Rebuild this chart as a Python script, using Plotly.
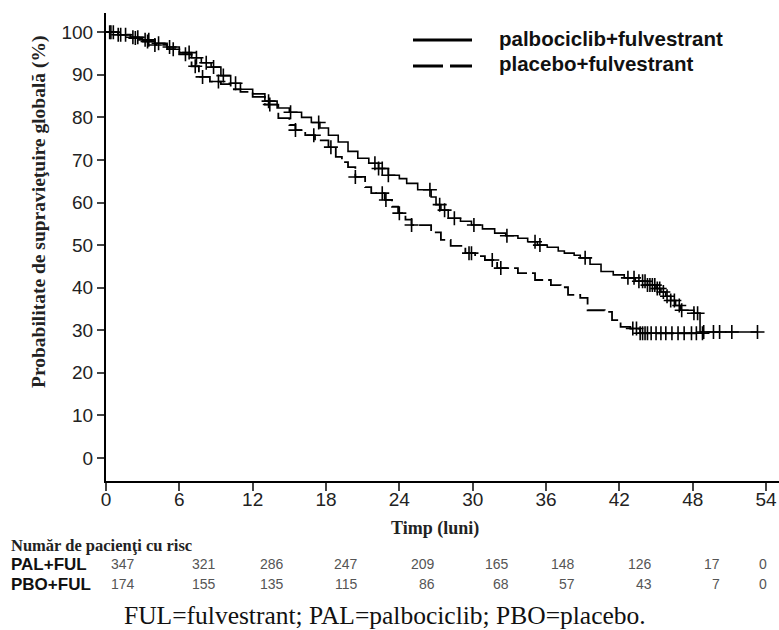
import numpy as np
import plotly.graph_objects as go

# ---------------- data ----------------
pal_times = [0, 1.0, 2.0, 3.0, 4.0, 5.0, 6.0, 7.0, 7.8, 8.6, 9.4, 10.2, 11.0, 12.0, 13.0, 14.0,
             15.0, 16.0, 16.8, 17.5, 18.2, 19.0, 19.8, 20.6, 21.5, 22.3, 23.1, 24.0, 24.6, 25.5,
             26.6, 27.0, 27.4, 28.0, 29.0, 29.9, 30.8, 31.8, 32.7, 33.7, 34.5, 35.3, 36.1, 37.0,
             37.5, 38.3, 38.8, 39.6, 40.5, 41.5, 42.4, 43.3, 44.3, 45.0, 45.4, 45.8, 46.2, 46.6,
             47.0, 48.1, 48.6]
pal_surv = [100, 99.4, 98.8, 98.2, 97.4, 96.5, 95.2, 94.0, 92.8, 91.8, 89.8, 88.0, 86.6, 85.5, 83.8, 82.2,
            81.2, 80.0, 78.8, 77.5, 75.8, 74.2, 72.0, 70.4, 69.2, 68.0, 66.4, 65.6, 64.5, 63.0,
            61.3, 59.5, 58.2, 56.3, 55.6, 54.7, 53.8, 52.8, 52.2, 51.6, 50.8, 50.0, 49.5, 48.6,
            48.1, 47.6, 47.0, 45.5, 43.8, 43.0, 42.3, 41.5, 40.6, 39.8, 39.0, 38.0, 37.0, 35.8,
            34.7, 34.0, 29.6]
pal_censor = [0.3, 0.6, 1.2, 2.2, 2.6, 3.2, 3.5, 4.3, 5.2, 6.8, 7.4, 8.2, 8.8, 9.6, 10.6, 13.3, 15.1,
              17.4, 22.0, 22.3, 22.6, 23.1, 26.5, 27.3, 27.7, 28.5, 30.1, 32.8, 35.1, 35.5, 39.2,
              42.7, 43.2, 43.6, 43.9, 44.1, 44.3, 44.5, 44.7, 44.9, 45.1, 45.3, 45.6, 45.9, 46.2,
              46.5, 46.9, 47.1, 48.1, 48.4, 48.9, 49.7, 50.2, 51.2, 53.3]

pbo_times = [0, 1.0, 2.0, 3.0, 4.0, 5.0, 6.0, 7.0, 7.6, 8.5, 9.4, 10.2, 11.0, 12.0, 13.0, 14.1,
             15.0, 15.5, 16.3, 17.1, 18.2, 18.8, 19.3, 19.8, 20.4, 21.2, 21.7, 22.8, 23.4, 23.9,
             24.5, 25.0, 26.6, 27.4, 28.2, 29.4, 30.2, 31.0, 32.0, 33.7, 35.1, 36.4, 37.2, 37.8,
             38.8, 39.4, 40.8, 41.4, 42.1, 42.9, 43.7]
pbo_surv = [100, 99.4, 98.6, 97.8, 97.0, 96.0, 94.8, 92.0, 89.5, 88.4, 87.8, 86.6, 86.0, 84.8, 83.0, 79.8,
            78.2, 77.0, 75.8, 74.6, 73.0, 70.7, 69.5, 68.3, 66.0, 63.6, 62.2, 60.6, 59.0, 57.5,
            56.0, 54.7, 53.0, 51.2, 49.8, 48.1, 47.4, 46.5, 44.6, 43.4, 41.8, 40.6, 40.1, 38.3,
            37.6, 34.7, 34.3, 32.4, 30.8, 30.4, 29.3]
pbo_censor = [0.4, 1.0, 1.6, 2.4, 3.4, 4.0, 5.5, 6.5, 7.3, 7.9, 9.2, 13.4, 15.5, 17.0, 18.4, 20.4,
              22.6, 22.9, 24.0, 25.0, 29.7, 29.9, 31.6, 32.3, 43.1, 43.4, 43.7, 43.9, 44.1, 44.3,
              44.6, 45.0, 45.4, 45.8, 46.3, 46.8, 47.3, 47.9, 48.3, 48.8]

risk_times = [0, 6, 12, 18, 24, 30, 36, 42, 48, 54]
pal_risk = [347, 321, 286, 247, 209, 165, 148, 126, 17, 0]
pbo_risk = [174, 155, 135, 115, 86, 68, 57, 43, 7, 0]

x_ticks = [0, 6, 12, 18, 24, 30, 36, 42, 48, 54]
y_ticks = [0, 10, 20, 30, 40, 50, 60, 70, 80, 90, 100]

arm_names = ["palbociclib+fulvestrant", "placebo+fulvestrant"]
risk_labels = ["PAL+FUL", "PBO+FUL"]

# ---------------- layout geometry (pixels) ----------------
W, H = 779, 630
L, R, T, B = 106, 0, 13, 149
PW, PH = W - L - R, H - T - B


def px(xp):
    return (xp - L) / PW


def py(yp):
    return (H - B - yp) / PH


def step_value(times, surv, t):
    i = np.searchsorted(np.asarray(times), t, side="right") - 1
    return np.asarray(surv)[i]


fig = go.Figure()

arms = [
    (pal_times, pal_surv, pal_censor, "solid", 1.6),
    (pbo_times, pbo_surv, pbo_censor, "18px,5px", 1.8),
]
for (tt, ss, cc, dash, lw), name in zip(arms, arm_names):
    xs = list(tt) + [max(cc)]
    ys = list(ss) + [ss[-1]]
    fig.add_trace(go.Scatter(x=xs, y=ys, mode="lines", line=dict(shape="hv", color="black", width=lw, dash=dash),
                             name=name, showlegend=False, hoverinfo="skip"))
    cy = [step_value(tt, ss, c) for c in cc]
    fig.add_trace(go.Scatter(x=cc, y=cy, mode="markers",
                             marker=dict(symbol="cross-thin", size=10, line=dict(color="black", width=1.6)),
                             showlegend=False, hoverinfo="skip"))

fig.update_layout(
    width=W, height=H,
    margin=dict(l=L, r=R, t=T, b=B, pad=0),
    paper_bgcolor="white", plot_bgcolor="white",
    xaxis=dict(range=[0, 55.06], tickvals=x_ticks, ticks="outside", ticklen=8, tickwidth=1.5,
               ticklabelstandoff=-8,
               showline=True, linecolor="black", linewidth=2, showgrid=False, zeroline=False,
               tickfont=dict(family="Liberation Sans, Arial", size=19, color="#222")),
    yaxis=dict(range=[-5.4, 104.5], tickvals=y_ticks, ticks="outside", ticklen=7, tickwidth=1.5,
               showline=True, linecolor="black", linewidth=2, showgrid=False, zeroline=False,
               tickfont=dict(family="Liberation Sans, Arial", size=19, color="#222")),
    showlegend=False,
)

ann = []
# axis titles
ann.append(dict(text="<b>Probabilitate de supravieţuire globală (%)</b>", x=px(39), y=py(212), xref="paper",
                yref="paper", textangle=-90, showarrow=False, xanchor="center", yanchor="middle",
                font=dict(family="Liberation Serif, Times New Roman", size=19.5, color="#222")))
ann.append(dict(text="<b>Timp (luni)</b>", x=px(435), y=py(528), xref="paper", yref="paper", showarrow=False,
                xanchor="center", yanchor="middle",
                font=dict(family="Liberation Serif, Times New Roman", size=18, color="#222")))

# legend
leg_y = [40, 66]
for yy, name, dash in zip(leg_y, arm_names, ["solid", "30px,7px"]):
    fig.add_shape(type="line", xref="paper", yref="paper", x0=px(413), x1=px(472), y0=py(yy), y1=py(yy),
                  line=dict(color="black", width=3, dash=dash))
    ann.append(dict(text="<b>" + name + "</b>", x=px(497), y=py(yy - 2), xref="paper", yref="paper",
                    showarrow=False, xanchor="left", yanchor="middle",
                    font=dict(family="Liberation Sans, Arial", size=20.5, color="#111")))

# risk table
ann.append(dict(text="<b>Număr de pacienţi cu risc</b>", x=px(9), y=py(545), xref="paper", yref="paper",
                showarrow=False, xanchor="left", yanchor="middle",
                font=dict(family="Liberation Serif, Times New Roman", size=16.5, color="#222")))
num_right = [137, 218, 286, 360, 437, 511, 577, 654, 722, 769]
for lab, vals, yy in zip(risk_labels, [pal_risk, pbo_risk], [564, 584]):
    ann.append(dict(text="<b>" + lab + "</b>", x=px(9), y=py(yy), xref="paper", yref="paper",
                    showarrow=False, xanchor="left", yanchor="middle",
                    font=dict(family="Liberation Sans, Arial", size=17, color="#111")))
    for t, v, xr in zip(risk_times, vals, num_right):
        ann.append(dict(text=str(v), x=px(xr), y=py(yy), xref="paper", yref="paper",
                        showarrow=False, xanchor="right", yanchor="middle",
                        font=dict(family="Liberation Sans, Arial", size=14, color="#555")))

# footnote
ann.append(dict(text="FUL=fulvestrant; PAL=palbociclib; PBO=placebo.", x=px(385), y=py(616), xref="paper",
                yref="paper", showarrow=False, xanchor="center", yanchor="middle",
                font=dict(family="Liberation Serif, Times New Roman", size=25.5, color="#111")))

fig.update_layout(annotations=ann)
fig.write_html("out.html")
